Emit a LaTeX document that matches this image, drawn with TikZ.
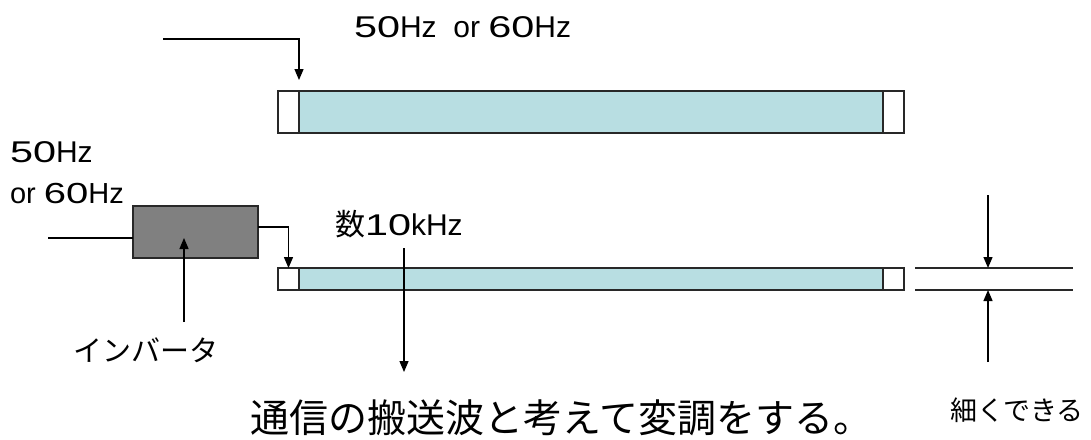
\documentclass[tikz,border=0pt]{standalone}
\usepackage{fontspec}
\usepackage{graphicx}
\newfontfamily\jp{Noto Sans CJK JP}
\newfontfamily\lat{Liberation Sans}
\newcommand\wdig[1]{\scalebox{1.38}[1]{#1}}
\usetikzlibrary{arrows.meta}
\definecolor{tube}{RGB}{184,222,226}
\definecolor{edge}{RGB}{40,40,40}
\definecolor{invgray}{RGB}{128,128,128}
\tikzset{
  x=1pt,y=-1pt,
  every node/.style={inner sep=0pt,outer sep=0pt},
  cap/.style={draw=edge,fill=white,line width=1.4pt,anchor=north west,minimum width=21pt,minimum height=#1},
  body/.style={draw=edge,fill=tube,line width=1.4pt,anchor=north west,minimum width=584pt,minimum height=#1},
  ln/.style={draw=black,line width=1.3pt},
  arr/.style={ln,-{Triangle[length=11pt,width=9pt]}},
  lbl/.style={font=\jp\fontsize{#1}{#1}\selectfont,text=black},
  latl/.style={font=\lat\fontsize{#1}{#1}\selectfont,text=black},
}
\begin{document}
\begin{tikzpicture}
\useasboundingbox (0,0) rectangle (1091,439);
\fill[white] (0,0) rectangle (1091,439);
% top tube
\node[body=42pt] (body1) at (299,91) {};
\node[cap=42pt] (lcap1) at (278,91) {};
\node[cap=42pt] (rcap1) at (883,91) {};
% bottom tube
\node[body=22pt] (body2) at (299,268) {};
\node[cap=22pt] (lcap2) at (278,268) {};
\node[cap=22pt] (rcap2) at (883,268) {};
% inverter
\node[draw=edge,fill=invgray,line width=1.4pt,anchor=north west,minimum width=125pt,minimum height=52pt] (inv) at (133,206) {};
% texts
\node[latl=30,anchor=base west] (t1) at (354,37) {\wdig{5}\wdig{0}Hz\ \ or \wdig{6}\wdig{0}Hz};
\node[latl=30,anchor=base west] (t2a) at (10,162) {\wdig{5}\wdig{0}Hz};
\node[latl=29,anchor=base west] (t2b) at (10,203) {or \wdig{6}\wdig{0}Hz};
\node[latl=30,anchor=base west] (t3) at (335,235) {{\jp 数}\wdig{1}\wdig{0}kHz};
\node[lbl=29] (t4) at (146,350) {インバータ};
\node[lbl=39,anchor=base west] (t5) at (250,432) {通信の搬送波と考えて変調をする。};
\node[lbl=27,anchor=base west] (t6) at (950,420) {細くできる};
% connectors
\coordinate (in1) at (163,39);
\draw[arr,shorten >=11pt] (in1) -| (lcap1.north east);
\coordinate (in2) at (48,238);
\draw[ln] (in2) -- (in2 -| inv.west);
\draw[arr] ([yshift=5pt]inv.east) -| (lcap2.north);
\coordinate (invl) at (184,322);
\coordinate (invt) at (184,238);
\draw[arr] (invl) -- (invt);
\coordinate (kf) at (404,248);
\coordinate (kt) at (404,372);
\draw[arr] (kf) -- (kt);
% thin-line comparison
\coordinate (la) at (915,268);
\coordinate (lb) at (1073,268);
\coordinate (lc) at (915,290);
\coordinate (ld) at (1073,290);
\draw[ln,line width=1.4pt,draw=edge] (la) -- (lb);
\draw[ln,line width=1.4pt,draw=edge] (lc) -- (ld);
\coordinate (da) at (988,195);
\coordinate (db) at (988,268);
\coordinate (ua) at (988,362);
\coordinate (ub) at (988,290);
\draw[arr] (da) -- (db);
\draw[arr] (ua) -- (ub);
\end{tikzpicture}
\end{document}
